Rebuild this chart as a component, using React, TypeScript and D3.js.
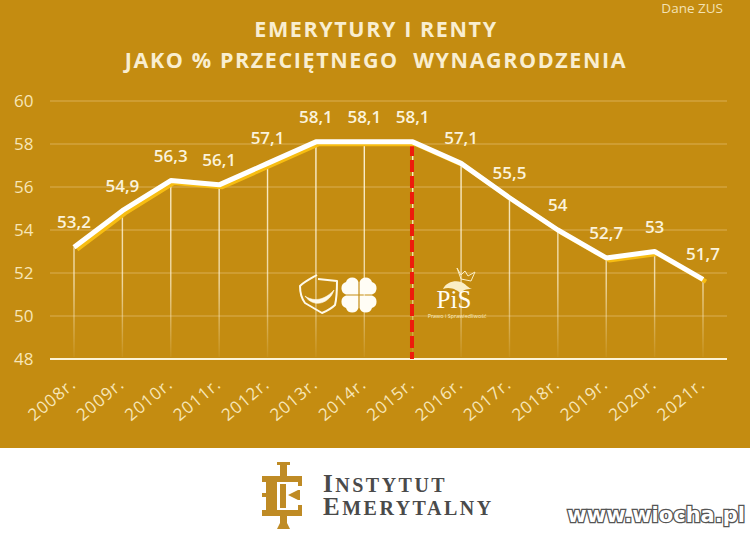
import * as d3 from 'd3';

const years = ['2008r.', '2009r.', '2010r.', '2011r.', '2012r.', '2013r.', '2014r.', '2015r.', '2016r.', '2017r.', '2018r.', '2019r.', '2020r.', '2021r.'];
const values = [53.2, 54.9, 56.3, 56.1, 57.1, 58.1, 58.1, 58.1, 57.1, 55.5, 54, 52.7, 53, 51.7];
const valueLabels = ['53,2', '54,9', '56,3', '56,1', '57,1', '58,1', '58,1', '58,1', '57,1', '55,5', '54', '52,7', '53', '51,7'];
const yTicks = [48, 50, 52, 54, 56, 58, 60];
const titleLines = ['EMERYTURY I RENTY', 'JAKO % PRZECIĘTNEGO  WYNAGRODZENIA'];
const splitYear = '2015r.';

const width = 750;
const height = 538;
const gold = '#c48c11';
const font = '"Open Sans", sans-serif';
const serif = "'Liberation Serif', serif";

const x = d3.scalePoint<string>().domain(years).range([74, 703]);
const y = d3.scaleLinear().domain([48, 60]).range([359, 101]);

const line = d3.line<number>()
  .x((_, i) => x(years[i])!)
  .y(d => y(d));

// four hearts with their tips in the middle
function Clover({ cx, cy }: { cx: number; cy: number }) {
  const s = 13;
  const heart = `M-0.6,-0.6 H${-s} A${s / 2},${s / 2} 0 0 1 ${-s},${-s} A${s / 2},${s / 2} 0 0 1 -0.6,${-s} Z`;
  return (
    <g fill="#fffdf5" transform={`translate(${cx},${cy})`}>
      {[0, 90, 180, 270].map(a => (
        <path key={a} d={heart} transform={`rotate(${a})`} />
      ))}
    </g>
  );
}

function Shield() {
  return (
    <g fill="none" stroke="#fffaea" strokeWidth={2} strokeLinejoin="round">
      <path d="M317,275 C310,279 304,282 300,286 C300,294 302,299 305,303 L322,313 C329,310 333,307 335,305 C337,297 337,289 337,281 L318,279" />
      <path d="M305,296 C312,301 323,302 334,290 C330,303 314,309 305,296 Z" fill="#fffaea" strokeWidth={0.6} />
    </g>
  );
}

function PisLogo() {
  return (
    <g>
      <path d="M457,268 L461,275 L465,271 L468,276 L475,272 L471,281 L461,279 Z" fill="none" stroke="#fbeec5" strokeWidth={1} />
      <path d="M443,289 C446,282 455,280 461,282 C466,284 468,288 472,289 C466,289 462,290 461,294 C458,290 450,286 443,289 Z" fill="#fbeec5" />
      <text textAnchor="middle" fill="#fffdf5">
        <tspan x={454} y={308} fontFamily={serif} fontSize={25}>PiS</tspan>
        <tspan x={457} y={318} fontFamily={font} fontSize={5.4} fill="#fbeec5">Prawo i Sprawiedliwość</tspan>
      </text>
    </g>
  );
}

function InstytutLogo() {
  return (
    <g fill="#bf8b25">
      <rect x={277} y={462} width={13} height={3} />
      <rect x={280} y={462} width={7} height={14} />
      <rect x={262} y={476} width={40} height={6} />
      <rect x={298} y={476} width={4} height={10} />
      <rect x={266} y={476} width={11} height={40} />
      <rect x={262} y={493} width={5} height={4} />
      <rect x={280} y={484} width={6} height={24} />
      <path d="M288,495 L298,490 H300 V500 H298 Z" />
      <rect x={262} y={510} width={40} height={6} />
      <rect x={298} y={505} width={4} height={11} />
      <rect x={280} y={516} width={7} height={9} />
      <path d="M280,523 H287 L290,529 H277 Z" />
    </g>
  );
}

export default function App() {
  const splitX = x(splitYear)!;
  const path = line(values)!;
  return (
    <svg
      width={width}
      height={height}
      viewBox={`0 0 ${width} ${height}`}
      style={{ position: 'absolute', left: 0, top: 0, background: '#fff' }}
    >
      <rect x={0} y={0} width={width} height={448} fill={gold} />

      {titleLines.map((t, i) => (
        <text
          key={i}
          x={376}
          y={37 + i * 31}
          textAnchor="middle"
          fontFamily={font}
          fontWeight={700}
          fontSize={21.5}
          letterSpacing={1.6}
          fill="#f9eed0"
          style={{ whiteSpace: 'pre' }}
        >
          {t}
        </text>
      ))}
      <text x={723} y={13} textAnchor="end" fontFamily={font} fontSize={13.5} fill="#f3e2b4">Dane ZUS</text>

      {/* grid */}
      {yTicks.map(t => (
        <g key={t}>
          <line
            x1={50}
            x2={727}
            y1={y(t)}
            y2={y(t)}
            stroke={t === 48 ? '#fdf3d6' : '#d9ad55'}
            strokeWidth={t === 48 ? 2 : 1.2}
          />
          <text x={14} y={y(t) + 6} fontFamily={font} fontSize={17} fill="#f7e6b8">{t}</text>
        </g>
      ))}

      {/* drop lines, fading out toward the axis */}
      <defs>
        <linearGradient id="drop" gradientUnits="userSpaceOnUse" x1="0" y1={y(58)} x2="0" y2={y(48)}>
          <stop offset="0" stopColor="#fff6dc" stopOpacity={0.95} />
          <stop offset="0.65" stopColor="#fff6dc" stopOpacity={0.7} />
          <stop offset="1" stopColor="#fff6dc" stopOpacity={0.03} />
        </linearGradient>
      </defs>
      {years.map((yr, i) => (
        <rect
          key={yr}
          x={x(yr)! - 0.7}
          y={y(values[i])}
          width={1.4}
          height={y(48) - y(values[i]) - 2}
          fill="url(#drop)"
        />
      ))}

      <line x1={splitX - 0.7} x2={splitX - 0.7} y1={y(58)} y2={y(48)} stroke="#ee1c0c" strokeWidth={4} strokeDasharray="12 4" />

      <path d={path} transform="translate(3,2.2)" fill="none" stroke="#f7bd12" strokeWidth={4.5} strokeLinejoin="round" />
      <path d={path} fill="none" stroke="#ffffff" strokeWidth={5} strokeLinejoin="round" />

      {years.map((yr, i) => (
        <text
          key={yr}
          x={x(yr)!}
          y={y(values[i]) - 19}
          textAnchor="middle"
          fontFamily={font}
          fontWeight={600}
          fontSize={17}
          fill="#fbf3dc"
        >
          {valueLabels[i]}
        </text>
      ))}

      {years.map(yr => (
        <text
          key={yr}
          transform={`translate(${x(yr)! + 3},386) rotate(-40)`}
          textAnchor="end"
          fontFamily={font}
          fontSize={17}
          letterSpacing={0.9}
          fill="#f7e6b8"
        >
          {yr}
        </text>
      ))}

      <Shield />
      <Clover cx={359} cy={295} />
      <PisLogo />

      <InstytutLogo />
      <text fontFamily={serif} fontWeight={700} fill="#4a4a4a" letterSpacing={2.5}>
        <tspan x={323} y={492} fontSize={25}>I</tspan><tspan fontSize={20}>NSTYTUT</tspan>
        <tspan x={323} y={515} fontSize={25}>E</tspan><tspan fontSize={20}>MERYTALNY</tspan>
      </text>

      <text
        x={745}
        y={522}
        textAnchor="end"
        fontFamily="'DejaVu Sans', sans-serif"
        fontWeight={700}
        fontSize={21}
        fill="#fff"
        stroke="#555"
        strokeWidth={2.6}
        paintOrder="stroke"
      >
        www.wiocha.pl
      </text>
    </svg>
  );
}
